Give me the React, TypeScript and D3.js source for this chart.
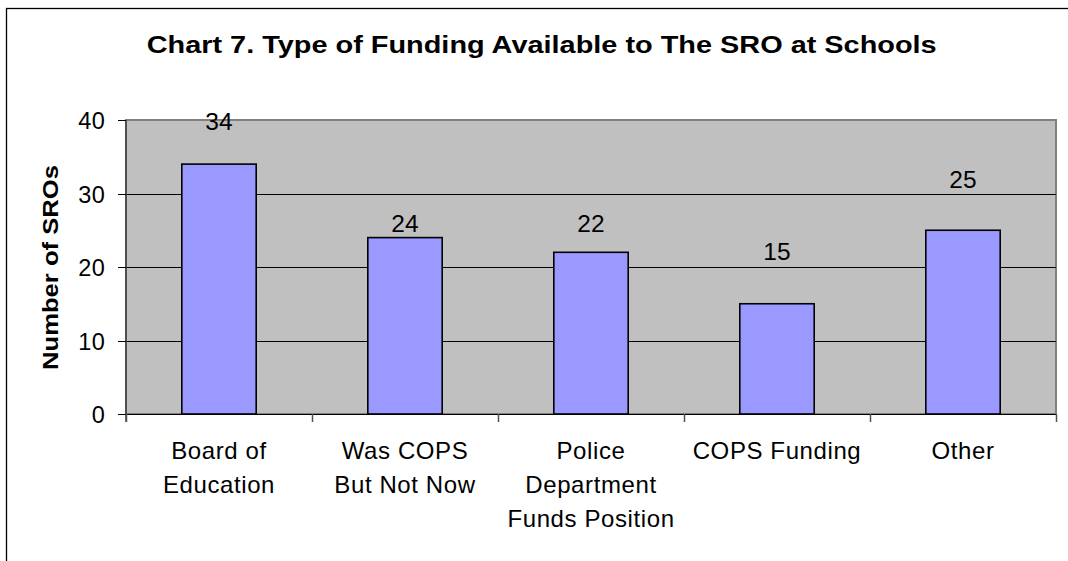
import React from "react";
import * as d3 from "d3";

const categories: string[][] = [
  ["Board of", "Education"],
  ["Was COPS", "But Not Now"],
  ["Police", "Department", "Funds Position"],
  ["COPS Funding"],
  ["Other"],
];
const values: number[] = [34, 24, 22, 15, 25];
// label baseline positions (in data units)
const labelAt: number[] = [38.7, 24.7, 24.7, 20.95, 30.8];
const yTicks: number[] = [0, 10, 20, 30, 40];
const title = "Chart 7. Type of Funding Available to The SRO at Schools";
const yTitle = "Number of SROs";

const W = 1068;
const H = 561;
const plot = { left: 126, right: 1056, top: 120, bottom: 414 };
const FONT = "'Liberation Sans', Arial, Helvetica, sans-serif";

export default function App() {
  const keys = categories.map((_, i) => String(i));
  const xCat = d3.scaleBand<string>().domain(keys).range([plot.left, plot.right]).padding(0);
  const xBar = d3
    .scaleBand<string>()
    .domain(keys)
    .range([plot.left, plot.right])
    .paddingInner(0.6)
    .paddingOuter(0.3);
  const y = d3.scaleLinear().domain([0, 40]).range([plot.bottom, plot.top]);

  const boundaries = keys.map((k) => xCat(k) as number).concat([plot.right]);

  return (
    <svg
      width={W}
      height={H}
      style={{ position: "absolute", left: 0, top: 0, display: "block" }}
      fontFamily={FONT}
    >
      <rect x={0} y={0} width={W} height={H} fill="#fff" />
      {/* outer chart frame */}
      <rect x={6.5} y={8.5} width={W + 20} height={H + 20} fill="none" stroke="#000" strokeWidth={1.3} />

      {/* title */}
      <text
        x={541.7}
        y={52.5}
        textAnchor="middle"
        fontSize={23.5}
        fontWeight="bold"
        textLength={790}
        lengthAdjust="spacingAndGlyphs"
        fill="#000"
      >
        {title}
      </text>

      {/* plot area */}
      <rect
        x={plot.left}
        y={plot.top}
        width={plot.right - plot.left}
        height={plot.bottom - plot.top}
        fill="#C0C0C0"
        stroke="#808080"
        strokeWidth={2}
      />

      {/* gridlines */}
      {yTicks
        .filter((t) => t > 0 && t < 40)
        .map((t) => (
          <line
            key={"g" + t}
            x1={plot.left}
            x2={plot.right}
            y1={Math.round(y(t)) + 0.5}
            y2={Math.round(y(t)) + 0.5}
            stroke="#000"
            strokeWidth={1}
          />
        ))}

      {/* bars */}
      {values.map((v, i) => (
        <rect
          key={"b" + i}
          x={xBar(keys[i])}
          y={y(v)}
          width={xBar.bandwidth()}
          height={y(0) - y(v)}
          fill="#9999FF"
          stroke="#000"
          strokeWidth={1.6}
        />
      ))}

      {/* value labels */}
      {values.map((v, i) => (
        <text
          key={"v" + i}
          x={(xBar(keys[i]) as number) + xBar.bandwidth() / 2}
          y={y(labelAt[i])}
          textAnchor="middle"
          fontSize={24.5}
          fill="#000"
        >
          {v}
        </text>
      ))}

      {/* y axis */}
      <line x1={plot.left} x2={plot.left} y1={plot.top} y2={plot.bottom + 8} stroke="#404040" strokeWidth={1.5} />
      {yTicks.map((t) => (
        <g key={"yt" + t}>
          <line
            x1={plot.left - 8}
            x2={plot.left}
            y1={Math.round(y(t)) + 0.5}
            y2={Math.round(y(t)) + 0.5}
            stroke="#000"
            strokeWidth={1}
          />
          <text x={105.5} y={y(t) + 9} textAnchor="end" fontSize={23.5} letterSpacing={0.6} fill="#000">
            {t}
          </text>
        </g>
      ))}

      {/* x axis */}
      <line x1={plot.left} x2={plot.right} y1={plot.bottom + 0.5} y2={plot.bottom + 0.5} stroke="#000" strokeWidth={1.2} />
      {boundaries.map((bx, i) => (
        <line
          key={"xt" + i}
          x1={Math.round(bx) + 0.5}
          x2={Math.round(bx) + 0.5}
          y1={plot.bottom}
          y2={plot.bottom + 8}
          stroke="#505050"
          strokeWidth={1.5}
        />
      ))}
      {categories.map((lines, i) => (
        <text
          key={"c" + i}
          x={(xCat(keys[i]) as number) + xCat.bandwidth() / 2}
          y={459.3}
          textAnchor="middle"
          fontSize={24}
          letterSpacing={0.6}
          fill="#000"
        >
          {lines.map((l, j) => (
            <tspan key={j} x={(xCat(keys[i]) as number) + xCat.bandwidth() / 2} dy={j === 0 ? 0 : 34}>
              {l}
            </tspan>
          ))}
        </text>
      ))}

      {/* y title */}
      <text
        transform={`translate(58.3, 267.5) rotate(-90)`}
        textAnchor="middle"
        fontSize={21.5}
        fontWeight="bold"
        textLength={205}
        lengthAdjust="spacingAndGlyphs"
        fill="#000"
      >
        {yTitle}
      </text>
    </svg>
  );
}
